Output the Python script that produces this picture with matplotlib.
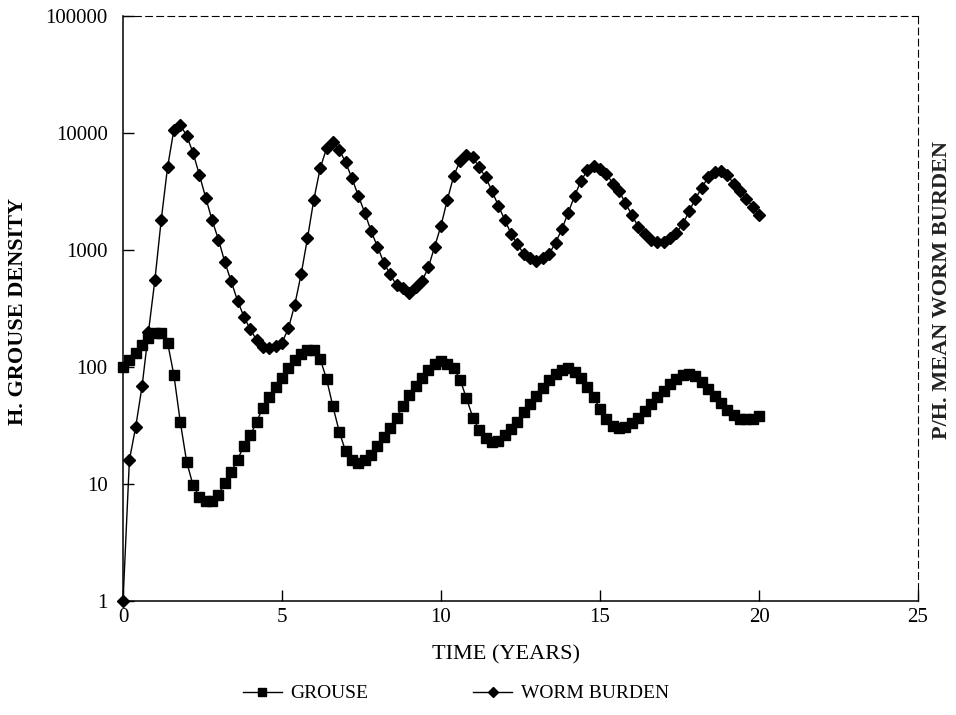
import matplotlib.pyplot as plt
import matplotlib.ticker as ticker
import numpy as np

plt.rcParams['font.family'] = ['Liberation Serif', 'DejaVu Serif']

# 模拟时间步长 0.2 年，共 20 年
dt = 0.2
time = np.round(np.arange(101) * dt, 1)

# 松鸡密度
grouse = [
    100, 115, 132, 155, 178, 195, 195, 162, 85, 34,
    15.5, 9.8, 7.8, 7.2, 7.2, 8.1, 10.2, 12.6, 16.2, 21,
    26, 34, 45, 55, 68, 81, 98, 115, 129, 141,
    141, 117, 79, 46, 28, 19, 16.2, 15.1, 16.2, 17.8,
    21, 25, 30, 37, 46, 58, 69, 81, 95, 107,
    112, 107, 98, 78, 54, 37, 29, 24.5, 23, 23.5,
    26, 29.5, 34, 41, 48, 56, 66, 78, 87, 95,
    98, 91, 81, 68, 55, 44, 36, 31.6, 30, 31,
    33, 37, 42, 48, 55, 63, 71, 79, 85, 87,
    83, 74, 65, 56, 49, 43, 39, 36, 36, 36,
    38,
]

# 平均线虫负荷
worm = [
    1, 16, 31, 69, 200, 550, 1800, 5100, 10700, 11700,
    9500, 6800, 4400, 2800, 1800, 1230, 790, 540, 370, 270,
    210, 170, 148, 145, 152, 162, 214, 340, 620, 1260,
    2700, 5000, 7400, 8300, 7200, 5600, 4100, 2900, 2090, 1450,
    1070, 780, 620, 500, 470, 430, 480, 540, 710, 1070,
    1620, 2700, 4300, 5800, 6500, 6200, 5100, 4200, 3200, 2400,
    1820, 1380, 1120, 930, 850, 810, 850, 930, 1150, 1510,
    2090, 2900, 3900, 4800, 5200, 4900, 4500, 3700, 3200, 2500,
    2000, 1580, 1380, 1230, 1170, 1170, 1260, 1410, 1660, 2140,
    2750, 3400, 4200, 4600, 4700, 4400, 3700, 3200, 2750, 2340,
    2000,
]

fig = plt.figure(figsize=(9.56, 7.15), dpi=100)
ax = fig.add_axes([0.1287, 0.1594, 0.8316, 0.8182])

ax.plot(time, grouse, marker='s', markersize=6.8, color='black',
        linewidth=1, label='GROUSE', clip_on=False)
ax.plot(time, worm, marker='D', markersize=6.2, color='black',
        linewidth=1, label='WORM BURDEN', clip_on=False)

ax.set_yscale('log')
ax.set_ylim(1, 100000)
ax.set_xlim(0, 25)
ax.set_xticks([0, 5, 10, 15, 20, 25])
ax.yaxis.set_major_formatter(ticker.FuncFormatter(lambda v, pos: f'{v:.0f}'))
ax.yaxis.set_minor_locator(ticker.NullLocator())
ax.tick_params(direction='in', length=8, width=1, labelsize=15)
ax.tick_params(axis='y', pad=11)
ax.tick_params(axis='x', pad=5)

# 上边和右边用虚线
for side in ('top', 'right'):
    ax.spines[side].set_linestyle((0, (6, 4)))
    ax.spines[side].set_linewidth(0.8)
for side in ('left', 'bottom'):
    ax.spines[side].set_linewidth(1.1)

ax.set_xlabel('TIME (YEARS)', fontsize=16)
ax.xaxis.set_label_coords(0.482, -0.075)
fig.text(0.019, 0.565, 'H. GROUSE DENSITY', rotation=90, fontsize=16,
         fontweight='bold', ha='center', va='center')
fig.text(0.985, 0.595, 'P/H. MEAN WORM BURDEN', rotation=90, fontsize=16,
         fontweight='bold', ha='center', va='center', color='#222222')

fig.legend(loc='center', bbox_to_anchor=(0.477, 0.03), ncol=2, frameon=False,
           fontsize=14, handlelength=2.0, handletextpad=0.45, columnspacing=5.4,
           markerscale=0.9)

plt.savefig('out.png', dpi=100)
